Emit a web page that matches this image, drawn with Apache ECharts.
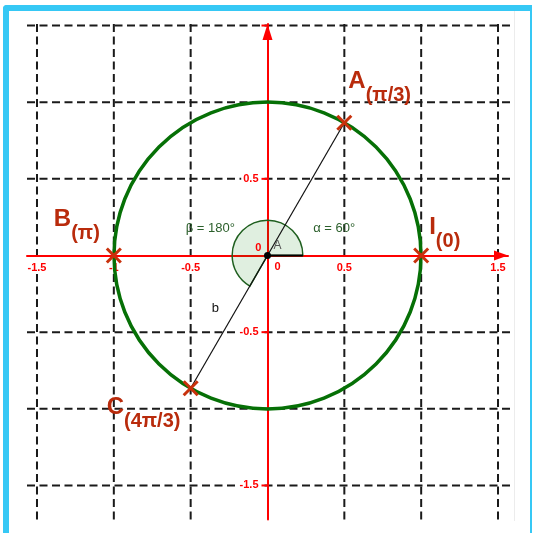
<!DOCTYPE html>
<html>
<head>
<meta charset="utf-8">
<script src="https://cdn.jsdelivr.net/npm/echarts@6/dist/echarts.min.js"></script>
<style>
  html, body { margin: 0; padding: 0; background: #fff; }
  #frame {
    position: absolute; left: 3px; top: 5px; width: 529px; height: 540px;
    box-sizing: border-box;
    border-left: 6px solid #36c8f5; border-top: 6px solid #36c8f5; border-right: 2px solid #36c8f5;
    border-top-left-radius: 4px;
  }
  #panel { position: absolute; left: 9px; top: 11px; width: 505px; height: 510px; border-right: 1px solid #ececec; }
  #chart { position: absolute; left: 0; top: 0; width: 534px; height: 533px; }
</style>
</head>
<body>
<div id="frame"></div>
<div id="panel"></div>
<div id="chart"></div>
<script>
  // grid / ticks
  const xGridValues = [-1.5, -1, -0.5, 0.5, 1, 1.5];
  const yGridValues = [-1.5, -1, -0.5, 0.5, 1, 1.5];
  const xTickValues = [-1.5, -1, -0.5, 0.5, 1.5];
  const xTickLabels = ['-1.5', '-1', '-0.5', '0.5', '1.5'];
  const yTickValues = [0.5, -0.5, -1.5];
  const yTickLabels = ['0.5', '-0.5', '-1.5'];

  // points on the unit circle
  const pointNames = ['A', 'B', 'C', 'I'];
  const pointArgs = ['(π/3)', '(π)', '(4π/3)', '(0)'];
  const pointX = [0.5, -1, -0.5, 1];
  const pointY = [0.866, 0, -0.866, 0];

  const circleCenter = [0, 0];
  const circleRadius = 1;
  const angleDegrees = [60, 180];          // alpha, beta
  const angleTexts = ['α = 60°', 'β = 180°'];
  const segmentName = 'b';                 // A -> C

  // view window
  const X_MIN = -1.565, X_MAX = 1.565, X_LINE_END = 1.592;
  const Y_MIN = -1.722, Y_MAX = 1.51;

  const RED = '#ff0000';
  const POINT_COLOR = '#c8310c';
  const LABEL_COLOR = '#b92b0c';
  const GREEN = '#067006';
  const DARK_GREEN = '#2b5f2b';

  // label boxes relative to the marker, px
  const pointLabelOffsets = [[4, -53], [-60, -48], [-84, 7], [8, -40]];

  // small annotations near the origin: [text, x, y, color, font]
  const notes = [
    [angleTexts[0], 0.434, 0.176, DARK_GREEN, '13px "Liberation Sans"'],
    [angleTexts[1], -0.372, 0.176, DARK_GREEN, '13px "Liberation Sans"'],
    [segmentName, -0.339, -0.345, '#111', '13px "Liberation Sans"'],
    ['A', 0.065, 0.065, '#555', '12px "Liberation Sans"'],
    ['0', 0.065, -0.078, RED, 'bold 11px "Liberation Sans"'],
    ['0', -0.059, 0.046, RED, 'bold 11px "Liberation Sans"']
  ];

  const chart = echarts.init(document.getElementById('chart'));

  function line(p1, p2, style) {
    return { type: 'line', shape: { x1: p1[0], y1: p1[1], x2: p2[0], y2: p2[1] }, style: style };
  }

  const dash = { stroke: '#1a1a1a', lineWidth: 2, lineDash: [8, 4.5] };
  const tickFont = 'bold 11px "Liberation Sans"';

  chart.setOption({
    animation: false,
    grid: { left: 27, right: 26, top: 24, bottom: 13.5 },
    xAxis: {
      type: 'value', min: X_MIN, max: X_MAX, z: 3,
      axisLine: {
        onZero: true, lineStyle: { color: RED, width: 2 },
        symbol: ['none', 'triangle'], symbolSize: [10, 14], symbolOffset: [0, -7]
      },
      axisTick: { show: false }, axisLabel: { show: false }, splitLine: { show: false }
    },
    yAxis: {
      type: 'value', min: Y_MIN, max: Y_MAX, z: 3,
      axisLine: {
        onZero: true, lineStyle: { color: RED, width: 2 },
        symbol: ['none', 'triangle'], symbolSize: [10, 16], symbolOffset: [0, -8]
      },
      axisTick: { show: false }, axisLabel: { show: false }, splitLine: { show: false }
    },
    series: [
      { // vertical dashed grid
        type: 'custom', z: 1, silent: true,
        data: xGridValues.map(v => [v, 0]),
        renderItem: (params, api) => line(api.coord([api.value(0), Y_MAX]), api.coord([api.value(0), Y_MIN]), dash)
      },
      { // horizontal dashed grid
        type: 'custom', z: 1, silent: true,
        data: yGridValues.map(v => [0, v]),
        renderItem: (params, api) => line(api.coord([X_MIN, api.value(1)]), api.coord([X_LINE_END, api.value(1)]), dash)
      },
      { // x tick labels (white box over the grid)
        type: 'custom', z: 2, silent: true,
        data: xTickValues.map(v => [v, 0]),
        renderItem: (params, api) => {
          const c = api.coord([api.value(0), 0]);
          return { type: 'text', x: c[0], y: c[1] + 12, style: { text: xTickLabels[params.dataIndex], fill: RED, font: tickFont, align: 'center', verticalAlign: 'middle', backgroundColor: '#fff', padding: [1, 2] } };
        }
      },
      { // y tick labels
        type: 'custom', z: 2, silent: true,
        data: yTickValues.map(v => [0, v]),
        renderItem: (params, api) => {
          const c = api.coord([0, api.value(1)]);
          return { type: 'text', x: c[0] - 7, y: c[1], style: { text: yTickLabels[params.dataIndex], fill: RED, font: tickFont, align: 'right', verticalAlign: 'middle', backgroundColor: '#fff', padding: [1, 2] } };
        }
      },
      { // small ticks on y axis
        type: 'custom', z: 3, silent: true,
        data: yGridValues.map(v => [0, v]),
        renderItem: (params, api) => {
          const c = api.coord([0, api.value(1)]);
          return line([c[0] - 6, c[1]], c, { stroke: RED, lineWidth: 2 });
        }
      },
      { // angle sectors alpha + beta
        type: 'custom', z: 4, silent: true,
        data: [circleCenter],
        renderItem: (params, api) => {
          const c = api.coord([api.value(0), api.value(1)]);
          const r = api.size([0.23, 0])[0];
          const total = (angleDegrees[0] + angleDegrees[1]) * Math.PI / 180;
          return {
            type: 'group', children: [
              { type: 'sector', shape: { cx: c[0], cy: c[1], r0: 0, r: r, startAngle: 0, endAngle: -total, clockwise: false },
                style: { fill: 'rgba(0,120,0,0.12)', stroke: '#1f5f1f', lineWidth: 1.5 } },
              line(c, [c[0] + r, c[1]], { stroke: '#000', lineWidth: 2 })
            ]
          };
        }
      },
      { // segment b from A to C
        type: 'custom', z: 5, silent: true,
        data: [[pointX[0], pointY[0], pointX[2], pointY[2]]],
        renderItem: (params, api) => line(api.coord([api.value(0), api.value(1)]), api.coord([api.value(2), api.value(3)]), { stroke: '#111', lineWidth: 1.2 })
      },
      { // unit circle
        type: 'custom', z: 6, silent: true,
        data: [circleCenter],
        renderItem: (params, api) => {
          const c = api.coord([api.value(0), api.value(1)]);
          const s = api.size([circleRadius, circleRadius]);
          return { type: 'circle', shape: { cx: c[0], cy: c[1], r: (s[0] + s[1]) / 2 }, style: { fill: 'none', stroke: GREEN, lineWidth: 3.5 } };
        }
      },
      { // centre point
        type: 'custom', z: 7, silent: true,
        data: [circleCenter],
        renderItem: (params, api) => {
          const c = api.coord([api.value(0), api.value(1)]);
          return { type: 'circle', shape: { cx: c[0], cy: c[1], r: 3.5 }, style: { fill: '#000' } };
        }
      },
      { // points A, B, C, I with labels
        type: 'custom', z: 7, silent: true,
        data: pointX.map((x, i) => [x, pointY[i]]),
        renderItem: (params, api) => {
          const i = params.dataIndex;
          const c = api.coord([api.value(0), api.value(1)]);
          const k = 7, st = { stroke: POINT_COLOR, lineWidth: 3 };
          const off = pointLabelOffsets[i];
          return {
            type: 'group', children: [
              line([c[0] - k, c[1] - k], [c[0] + k, c[1] + k], st),
              line([c[0] - k, c[1] + k], [c[0] + k, c[1] - k], st),
              { type: 'text', x: c[0] + off[0], y: c[1] + off[1], z2: 10,
                style: {
                  text: '{m|' + pointNames[i] + '}{s|' + pointArgs[i] + '}',
                  align: 'left', verticalAlign: 'top', fill: LABEL_COLOR,
                  rich: {
                    m: { fontSize: 24, fontWeight: 'bold', fontFamily: 'Liberation Sans', fill: LABEL_COLOR, lineHeight: 36, verticalAlign: 'top' },
                    s: { fontSize: 20, fontWeight: 'bold', fontFamily: 'Liberation Sans', fill: LABEL_COLOR, lineHeight: 36, verticalAlign: 'bottom' }
                  }
                } }
            ]
          };
        }
      },
      { // annotations
        type: 'custom', z: 8, silent: true,
        data: notes.map(n => [n[1], n[2]]),
        renderItem: (params, api) => {
          const n = notes[params.dataIndex];
          const c = api.coord([api.value(0), api.value(1)]);
          return { type: 'text', x: c[0], y: c[1], style: { text: n[0], fill: n[3], font: n[4], align: 'center', verticalAlign: 'middle' } };
        }
      }
    ]
  });
</script>
</body>
</html>
